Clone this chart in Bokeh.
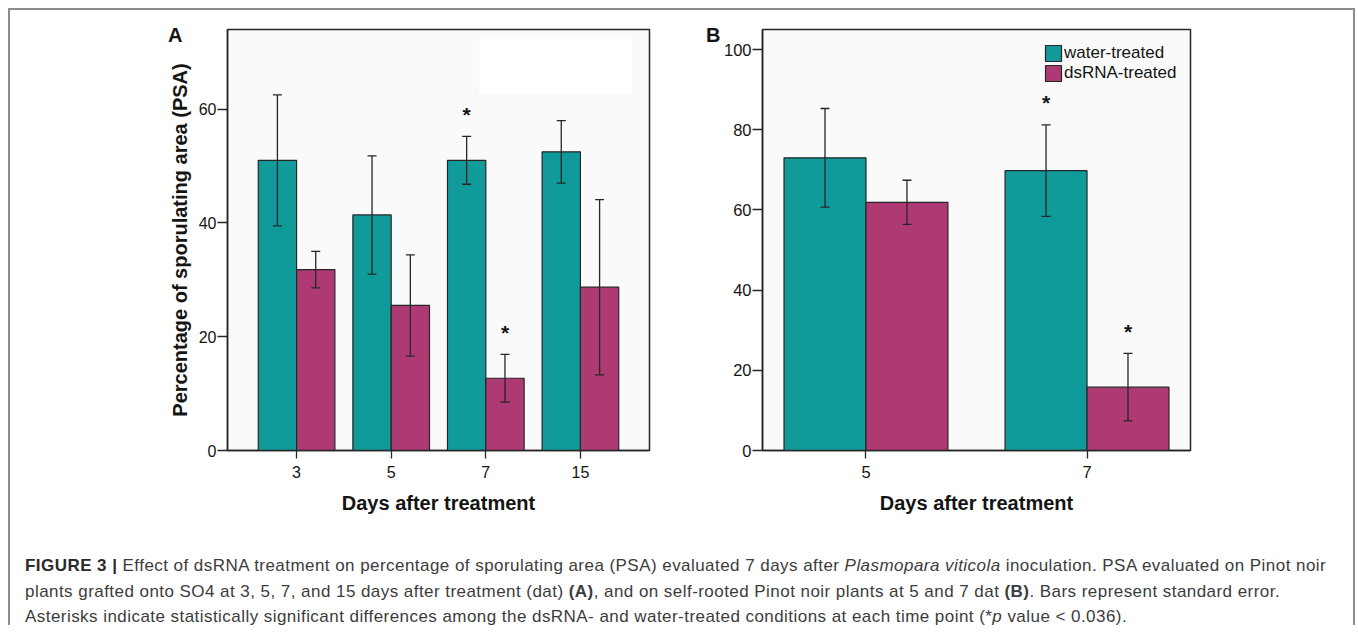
from bokeh.plotting import figure
from bokeh.models import (ColumnDataSource, FactorRange, Range1d, Whisker, TeeHead,
                          BoxAnnotation, SingleIntervalTicker, Div, Spacer)
from bokeh.layouts import row, column
from bokeh.transform import dodge
from bokeh.core.properties import value
from bokeh.embed import file_html
from bokeh.resources import INLINE

# ---------------- data ----------------
series_names = ["water-treated", "dsRNA-treated"]
x_label = "Days after treatment"
y_label = "Percentage of sporulating area (PSA)"
panel_tags = ["A", "B"]

# Panel A: Pinot noir grafted onto SO4
days_a = ["3", "5", "7", "15"]
water_a = [51.0, 41.4, 51.0, 52.5]
water_a_se = [11.5, 10.4, 4.2, 5.5]
dsrna_a = [31.8, 25.5, 12.7, 28.7]
dsrna_a_se = [3.2, 8.9, 4.2, 15.4]
water_a_sig = [False, False, True, False]
dsrna_a_sig = [False, False, True, False]

# Panel B: self-rooted Pinot noir
days_b = ["5", "7"]
water_b = [73.0, 69.8]
water_b_se = [12.3, 11.4]
dsrna_b = [61.9, 15.8]
dsrna_b_se = [5.5, 8.4]
water_b_sig = [False, True]
dsrna_b_sig = [False, True]

caption_lines = [
    "<b style='color:#2a2a2a'>FIGURE 3 |</b> Effect of dsRNA treatment on percentage of sporulating area (PSA) "
    "evaluated 7 days after <i>Plasmopara viticola</i> inoculation. PSA evaluated on Pinot noir",
    "plants grafted onto SO4 at 3, 5, 7, and 15 days after treatment (dat) <b>(A)</b>, and on self-rooted "
    "Pinot noir plants at 5 and 7 dat <b>(B)</b>. Bars represent standard error.",
    "Asterisks indicate statistically significant differences among the dsRNA- and water-treated "
    "conditions at each time point (*<i>p</i> value &lt; 0.036).",
]

# ---------------- style ----------------
FONT = "Liberation Sans"
TEAL = "#109b9a"
MAGENTA = "#ae3a73"
EDGE = "#262626"
TXT = "#141414"


def make_panel(days, water, water_se, dsrna, dsrna_se, water_sig, dsrna_sig, *, width, height,
               borders, x_range, bar_w, y_end, with_legend, ylabel, tick_size, blank=None):
    left, right, top, bottom = borders
    p = figure(x_range=x_range, y_range=Range1d(0, y_end), width=width, height=height,
               output_backend="svg", toolbar_location=None, title=None,
               min_border_left=left, min_border_right=right,
               min_border_top=top, min_border_bottom=bottom,
               background_fill_color="#fafafa", border_fill_color="white",
               outline_line_color=EDGE, outline_line_width=1.5)
    p.xgrid.visible = False
    p.ygrid.visible = False

    if blank is not None:
        l, r, b, t = blank
        p.add_layout(BoxAnnotation(left=l, right=r, bottom=b, top=t, fill_color="white",
                                   fill_alpha=1.0, line_color=None, level="underlay"))

    series = [(series_names[0], water, water_se, water_sig, TEAL, -0.5),
              (series_names[1], dsrna, dsrna_se, dsrna_sig, MAGENTA, 0.5)]
    for name, vals, se, sig, color, k in series:
        off = k * bar_w
        upper = [v + s for v, s in zip(vals, se)]
        lower = [v - s for v, s in zip(vals, se)]
        src = ColumnDataSource(dict(day=days, val=vals, upper=upper, lower=lower))
        kw = dict(legend_label=name) if with_legend else {}
        p.vbar(x=dodge("day", off, range=p.x_range), top="val", bottom=0, width=bar_w,
               source=src, fill_color=color, line_color=EDGE, line_width=1.2, **kw)
        p.add_layout(Whisker(source=src, base=dodge("day", off, range=p.x_range),
                             upper="upper", lower="lower", level="overlay",
                             line_color=EDGE, line_width=1.3,
                             upper_head=TeeHead(size=9, line_color=EDGE, line_width=1.3),
                             lower_head=TeeHead(size=9, line_color=EDGE, line_width=1.3)))
        star_src = ColumnDataSource(dict(
            day=[d for d, s in zip(days, sig) if s],
            y=[u for u, s in zip(upper, sig) if s],
            t=["*" for s in sig if s]))
        p.text(x=dodge("day", off, range=p.x_range), y="y", text="t", source=star_src,
               text_font=value(FONT), text_font_size=value("21px"), text_font_style="bold",
               text_align="center", text_baseline="alphabetic", y_offset=-22, text_color=TXT)

    # axes
    for ax in (p.xaxis[0], p.yaxis[0]):
        ax.axis_line_color = EDGE
        ax.axis_line_width = 1.5
        ax.major_tick_line_color = EDGE
        ax.major_tick_line_width = 1.3
        ax.major_tick_in = 0
        ax.minor_tick_line_color = None
        ax.major_label_text_font = FONT
        ax.major_label_text_font_size = tick_size
        ax.major_label_text_color = TXT
        ax.axis_label_text_font = FONT
        ax.axis_label_text_font_size = "20px"
        ax.axis_label_text_font_style = "bold"
        ax.axis_label_text_color = TXT
    p.xaxis.major_tick_out = 8
    p.xaxis.major_label_standoff = 7
    p.xaxis.axis_label = x_label
    p.xaxis.axis_label_standoff = 11
    p.yaxis.ticker = SingleIntervalTicker(interval=20)
    p.yaxis.major_tick_out = 10
    p.yaxis.major_label_standoff = 1
    if ylabel:
        p.yaxis.axis_label = y_label
        p.yaxis.axis_label_standoff = 5

    if with_legend:
        lg = p.legend[0]
        lg.location = (281, 367)
        lg.padding = 0
        lg.spacing = 0
        lg.margin = 0
        lg.glyph_width = 20
        lg.glyph_height = 20
        lg.label_height = 20
        lg.label_standoff = 1
        lg.label_text_font = FONT
        lg.label_text_font_size = "17px"
        lg.label_text_color = TXT
        lg.background_fill_alpha = 0
        lg.border_line_alpha = 0
    return p


pa = make_panel(days_a, water_a, water_a_se, dsrna_a, dsrna_a_se, water_a_sig, dsrna_a_sig,
                width=530, height=501, borders=(61, 46, 12, 64),
                x_range=FactorRange(factors=days_a, range_padding=0.23, range_padding_units="absolute"),
                bar_w=0.405, y_end=74, with_legend=False, ylabel=True, tick_size="16px",
                blank=(2.435, 4.042, 62.7, 72.7))

pb = make_panel(days_b, water_b, water_b_se, dsrna_b, dsrna_b_se, water_b_sig, dsrna_b_sig,
                width=497, height=501, borders=(67, 2, 14, 64),
                x_range=FactorRange(factors=days_b, factor_padding=0.068),
                bar_w=0.396, y_end=105, with_legend=True, ylabel=False, tick_size="16.5px")

caption_html = ("<div style=\"font-family:'Liberation Sans',Arial,sans-serif;font-size:17px;"
                "letter-spacing:0.45px;line-height:25.5px;color:#3c3c3c;white-space:nowrap;"
                "margin-left:15px;\">" + "<br>".join(caption_lines) + "</div>")
caption = Div(text=caption_html, width=1343, height=72, margin=0)

LINE = "#8c8c8c"
top_line = Div(text="", width=1343, height=2, margin=0, styles={"background-color": LINE})
left_line = Div(text="", width=2, height=617, margin=0, styles={"background-color": LINE})
right_line = Div(text="", width=2, height=617, margin=0, styles={"background-color": LINE})


def tag_div(text, left_px, top_px):
    html = ("<div style=\"font-family:'Liberation Sans',Arial,sans-serif;font-size:20px;"
            "font-weight:bold;line-height:22px;color:#141414;\">" + text + "</div>")
    return Div(text=html, width=22, height=22, margin=0,
               styles={"position": "absolute", "left": f"{left_px}px", "top": f"{top_px}px",
                       "z-index": "10"})


panels = row(Spacer(width=155, height=501, margin=0), pa, pb, Spacer(width=161, height=501, margin=0))
inner = column(top_line, Spacer(width=1343, height=5, margin=0), panels,
               Spacer(width=1343, height=37, margin=0), caption)
framed = row(left_line, inner, right_line)
page = column(Spacer(width=1355, height=8, margin=0),
              row(Spacer(width=8, height=617, margin=0), framed),
              tag_div(panel_tags[0], 168, 24), tag_div(panel_tags[1], 706, 24))

open("out.html", "w").write(file_html(page, INLINE))
